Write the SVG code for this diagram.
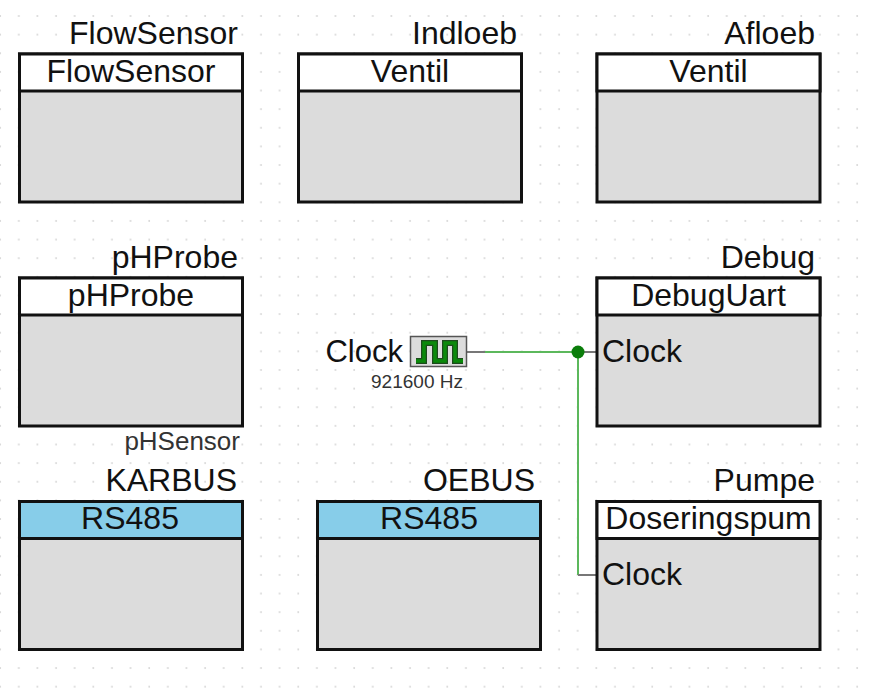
<svg xmlns="http://www.w3.org/2000/svg" width="870" height="691" viewBox="0 0 870 691">
<style>
text{font-family:"Liberation Sans",Arial,sans-serif;fill:#111}
.t{font-size:32px;text-anchor:end}
.h{font-size:32px;text-anchor:middle}
.p{font-size:32px}
.s{fill:#333}
.body{fill:#dcdcdc;stroke:#111;stroke-width:3}
.head{fill:#fff;stroke:#111;stroke-width:3}
.bus{fill:#87cde9;stroke:#111;stroke-width:3}
.wire{fill:none;stroke:#5cb85c;stroke-width:2}
.stub{fill:none;stroke:#777;stroke-width:2}
</style>
<defs>
<pattern id="dots" x="0" y="-2.63" width="18.63" height="18.63" patternUnits="userSpaceOnUse"><circle cx="0.2" cy="0" r="0.9" fill="#d4d4d4"/><circle cx="18.83" cy="0" r="0.9" fill="#d4d4d4"/><circle cx="0.2" cy="18.63" r="0.9" fill="#d4d4d4"/><circle cx="18.83" cy="18.63" r="0.9" fill="#d4d4d4"/></pattern>
</defs>
<rect width="870" height="691" fill="#fff"/>
<rect width="870" height="691" fill="url(#dots)"/>
<g id="connectors">
<path class="wire" d="M485 352H578M578 352V575"/>
<path class="stub" d="M466 352H485M578 352H597M578 575H597"/>
<circle cx="578" cy="352" r="6.500" fill="#0a7d0a"/>
</g>
<g id="flowsensor"><text class="t" x="238" y="44">FlowSensor</text><rect class="body" x="19.500" y="54" width="223" height="148"/><rect class="head" x="19.500" y="54" width="223" height="37"/><text class="h" x="131" y="82">FlowSensor</text></g>
<g id="indloeb"><text class="t" x="517" y="44">Indloeb</text><rect class="body" x="298.500" y="54" width="223" height="148"/><rect class="head" x="298.500" y="54" width="223" height="37"/><text class="h" x="410" y="82">Ventil</text></g>
<g id="afloeb"><text class="t" x="815" y="44">Afloeb</text><rect class="body" x="597" y="54" width="223" height="148"/><rect class="head" x="597" y="54" width="223" height="37"/><text class="h" x="708.500" y="82">Ventil</text></g>
<g id="phprobe"><text class="t" x="238" y="268">pHProbe</text><rect class="body" x="19.500" y="278" width="223" height="148"/><rect class="head" x="19.500" y="278" width="223" height="37"/><text class="h" x="131" y="306">pHProbe</text><text class="s" x="240" y="450" text-anchor="end" style="font-size:26px">pHSensor</text></g>
<g id="clock"><text class="p" x="403" y="362" text-anchor="end" style="font-size:31px">Clock</text><rect x="410.500" y="336.500" width="56" height="30" fill="#dcdcdc" stroke="#555" stroke-width="1.500"/><path d="M416 361H424V343H435V361H445V343H455V361H463" fill="none" stroke="#1c4a1c" stroke-width="6"/><path d="M416 361H424V343H435V361H445V343H455V361H463" fill="none" stroke="#0a8a0a" stroke-width="3.500"/><text class="s" x="417" y="388" text-anchor="middle" style="font-size:19px">921600 Hz</text></g>
<g id="debug"><text class="t" x="815" y="268">Debug</text><rect class="body" x="597" y="278" width="223" height="148"/><rect class="head" x="597" y="278" width="223" height="37"/><text class="h" x="708.500" y="306">DebugUart</text><text class="p" x="602" y="362">Clock</text></g>
<g id="karbus"><text class="t" x="237" y="491">KARBUS</text><rect class="body" x="19.500" y="501.500" width="223" height="148"/><rect class="bus" x="19.500" y="501.500" width="223" height="37"/><text class="h" x="130" y="529">RS485</text></g>
<g id="oebus"><text class="t" x="535" y="491">OEBUS</text><rect class="body" x="317.500" y="501.500" width="223" height="148"/><rect class="bus" x="317.500" y="501.500" width="223" height="37"/><text class="h" x="429" y="529">RS485</text></g>
<g id="pumpe"><text class="t" x="815" y="491">Pumpe</text><rect class="body" x="597" y="501.500" width="223" height="148"/><rect class="head" x="597" y="501.500" width="223" height="37"/><text class="h" x="708.500" y="529">Doseringspum</text><text class="p" x="602" y="585">Clock</text></g>
</svg>
